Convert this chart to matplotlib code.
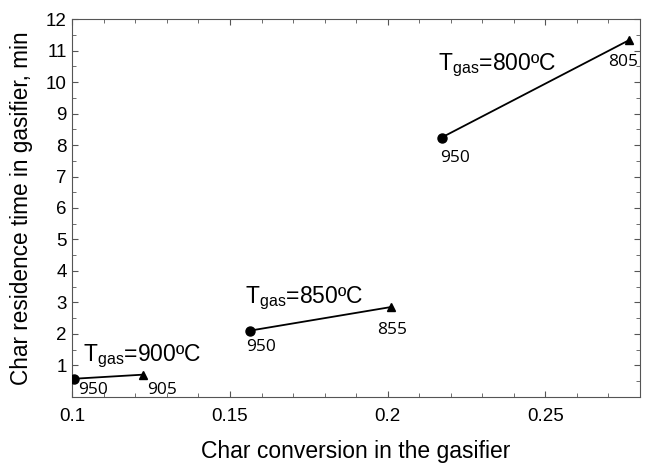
import matplotlib
matplotlib.use("Agg")
import matplotlib.pyplot as plt
from matplotlib.ticker import MultipleLocator

plt.rcParams['font.family'] = ['Liberation Sans', 'DejaVu Sans']
plt.rcParams['mathtext.default'] = 'regular'

# data: circle = start point, triangle = end point
gas_temps = ["900", "850", "800"]
conv_start = [0.1005, 0.1563, 0.2171]
time_start = [0.57, 2.10, 8.24]
conv_end = [0.1223, 0.2010, 0.2766]
time_end = [0.70, 2.85, 11.34]
start_labels = ["950", "950", "950"]
end_labels = ["905", "855", "805"]

# label positions (data coords)
title_xy = [(0.1035, 1.12), (0.1547, 2.98), (0.2158, 10.39)]
start_xy = [(0.1017, 0.07), (0.1552, 1.44), (0.2167, 7.46)]
end_xy = [(0.1236, 0.07), (0.1968, 2.00), (0.2700, 10.52)]

fig = plt.figure(figsize=(6.45, 4.65), dpi=100)
ax = fig.add_axes([0.1121, 0.1469, 0.8801, 0.8116])

for i in range(len(gas_temps)):
    ax.plot([conv_start[i], conv_end[i]], [time_start[i], time_end[i]],
            color='black', lw=1.3, zorder=2)
    ax.plot(conv_start[i], time_start[i], 'o', color='black', ms=6.5, zorder=3)
    ax.plot(conv_end[i], time_end[i], '^', color='black', ms=6, zorder=3)
    ax.text(title_xy[i][0], title_xy[i][1], "T$_{gas}$=" + gas_temps[i] + "ºC",
            fontsize=16.5, ha='left', va='baseline')
    ax.text(start_xy[i][0], start_xy[i][1], start_labels[i],
            fontsize=12.5, family=['Open Sans', 'DejaVu Sans'], ha='left', va='baseline')
    ax.text(end_xy[i][0], end_xy[i][1], end_labels[i],
            fontsize=12.5, family=['Open Sans', 'DejaVu Sans'], ha='left', va='baseline')

ax.set_xlim(0.1, 0.28)
ax.set_ylim(0, 12)
ax.set_xticks([0.1, 0.15, 0.2, 0.25])
ax.set_xticklabels(["0.1", "0.15", "0.2", "0.25"])
ax.set_yticks(range(1, 13))
ax.xaxis.set_minor_locator(MultipleLocator(0.01))
ax.yaxis.set_minor_locator(MultipleLocator(0.5))
ax.tick_params(which='both', direction='in', top=True, right=True, colors='#555555',
               labelcolor='black')
ax.tick_params(which='major', length=4)
ax.tick_params(which='minor', length=3)
ax.tick_params(axis='x', labelsize=13.5, pad=8)
ax.tick_params(axis='y', labelsize=13.5, pad=4)
for s in ax.spines.values():
    s.set_color('#555555')

ax.set_xlabel("Char conversion in the gasifier", fontsize=16.5, labelpad=11)
ax.set_ylabel("Char residence time in gasifier, min", fontsize=16.3, labelpad=9)

fig.savefig("out.png", dpi=100)
